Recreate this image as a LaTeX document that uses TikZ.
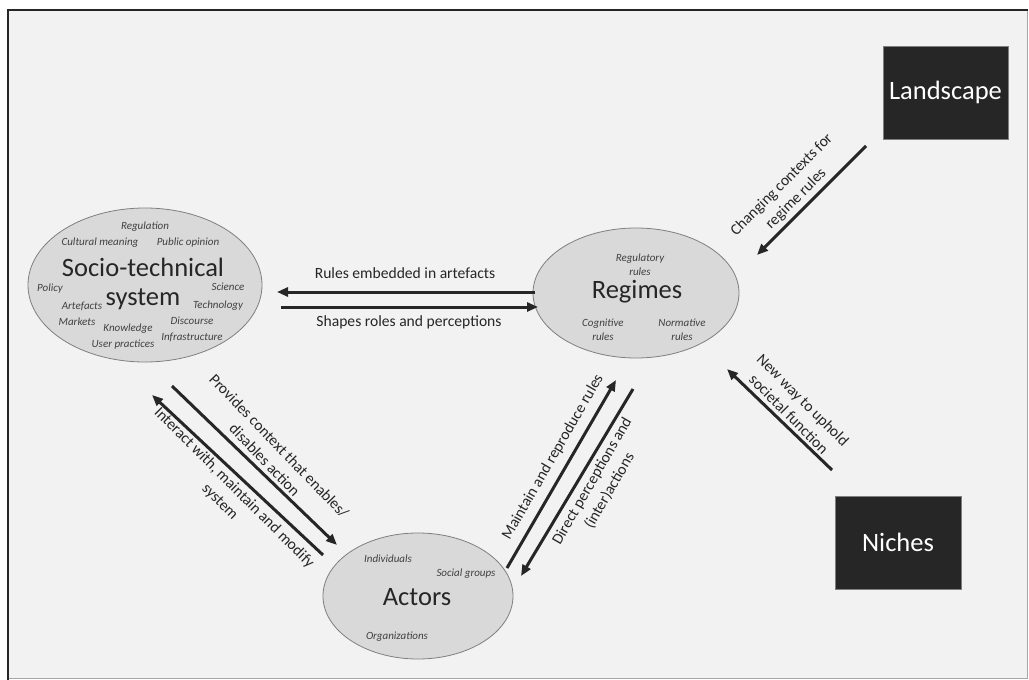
\documentclass[tikz,border=0pt]{standalone}
\usepackage{fontspec}
\setmainfont{Carlito}
\usetikzlibrary{shapes.geometric,arrows.meta}
\definecolor{bg}{HTML}{F2F2F2}
\definecolor{ink}{HTML}{262626}
\definecolor{oval}{HTML}{D9D9D9}
\definecolor{ovalline}{HTML}{7F7F7F}
\definecolor{soft}{HTML}{404040}
\tikzset{
  realm/.style={ellipse, draw=ovalline, line width=0.8pt, fill=oval, inner sep=0pt},
  level/.style={rectangle, draw=ovalline, line width=1pt, fill=ink, text=white, inner sep=0pt,
    minimum width=125pt, minimum height=93pt, font=\fontsize{26.5}{30}\selectfont},
  title/.style={text=ink, font=\fontsize{26.5}{28}\selectfont, inner sep=0pt},
  facet/.style={text=soft, font=\fontsize{11}{14}\selectfont\itshape, inner sep=0pt, align=center},
  flow/.style={draw=ink, line width=3pt, -{Triangle[length=11pt,width=9pt]}},
  tag/.style={text=ink, font=\fontsize{15.6}{20}\selectfont, align=center, inner sep=0pt},
}
\begin{document}
\begin{tikzpicture}[x=1pt,y=-1pt]
  % page and frame
  \fill[white] (0,0) rectangle (1029,680);
  \useasboundingbox (0,0) rectangle (1029,680);
  \fill[bg] (8,10) rectangle (1028,679);
  \draw[draw=gray!70, line width=1pt] (1027.5,10) -- (1027.5,678.5) -- (8,678.5);
  \draw[draw=ink, line width=2.2pt] (8,680) -- (8,10) -- (1028,10);

  % the three ovals
  \node[realm, minimum width=234pt, minimum height=154pt] (sts) at (145,285) {};
  \node[realm, minimum width=206pt, minimum height=130pt] (reg) at (636,293) {};
  \node[realm, minimum width=190pt, minimum height=126pt] (act) at (418,596) {};

  % the two dark levels
  \node[level] (land) at (945.5,92.5) {Landscape};
  \node[level, minimum width=126pt] (niche) at (898,542.5) {Niches};

  % socio-technical system contents
  \node[title] (stsA) at (143,267) {Socio-technical};
  \node[title] (stsB) at (143,299) {system};
  \node[facet] (f1) at (145,227) {Regulation};
  \node[facet] (f2) at (100,243) {Cultural meaning};
  \node[facet] (f3) at (188,243) {Public opinion};
  \node[facet] (f4) at (50,289) {Policy};
  \node[facet] (f5) at (228,287) {Science};
  \node[facet] (f6) at (82,306) {Artefacts};
  \node[facet] (f7) at (218,306) {Technology};
  \node[facet] (f8) at (77,322) {Markets};
  \node[facet] (f9) at (192,321) {Discourse};
  \node[facet] (f10) at (128,329) {Knowledge};
  \node[facet] (f11) at (192,337) {Infrastructure};
  \node[facet] (f12) at (123,345) {User practices};

  % regimes contents
  \node[title] (regT) at (637,292) {Regimes};
  \node[facet] (r1) at (640,265) {Regulatory\\rules};
  \node[facet] (r2) at (603,330) {Cognitive\\rules};
  \node[facet] (r3) at (682,330) {Normative\\rules};

  % actors contents
  \node[title] (actT) at (417,597) {Actors};
  \node[facet] (a1) at (388,559) {Individuals};
  \node[facet] (a2) at (466,574) {Social groups};
  \node[facet] (a3) at (397,637) {Organizations};

  % arrow end points
  \coordinate (hTopR) at (535,292);
  \coordinate (hTopL) at (277,292);
  \coordinate (hBotL) at (281,307);
  \coordinate (hBotR) at (538,307);
  \coordinate (pA) at (172,386);
  \coordinate (pB) at (337,545);
  \coordinate (iA) at (323,555);
  \coordinate (iB) at (152,395);
  \coordinate (mA) at (507,568);
  \coordinate (mB) at (616,380);
  \coordinate (dA) at (633,389);
  \coordinate (dB) at (521,576);
  \coordinate (lA) at (866,146);
  \coordinate (lB) at (757,255);
  \coordinate (nA) at (832,470);
  \coordinate (nB) at (727,369);

  % connectors
  \draw[flow] (hTopR) -- (hTopL);
  \draw[flow] (hBotL) -- (hBotR);
  \draw[flow] (pA) -- (pB);
  \draw[flow] (iA) -- (iB);
  \draw[flow] (mA) -- (mB);
  \draw[flow] (dA) -- (dB);
  \draw[flow] (lA) -- (lB);
  \draw[flow] (nA) -- (nB);

  % connector labels
  \node[tag] (t1) at (405,273) {Rules embedded in artefacts};
  \node[tag] (t2) at (409,322) {Shapes roles and perceptions};
  \node[tag, rotate=-46] (t3) at (272,453) {Provides context that enables/\\disables action};
  \node[tag, rotate=-45] (t4) at (227,495) {Interact with, maintain and modify\\system};
  \node[tag, rotate=60] (t5) at (553,457) {Maintain and reproduce rules};
  \node[tag, rotate=60] (t6) at (601,486) {Direct perceptions and\\(inter)actions};
  \node[tag, rotate=45] (t7) at (789,192) {Changing contexts for\\regime rules};
  \node[tag, rotate=-45] (t8) at (796,407) {New way to uphold\\societal function};
\end{tikzpicture}
\end{document}
